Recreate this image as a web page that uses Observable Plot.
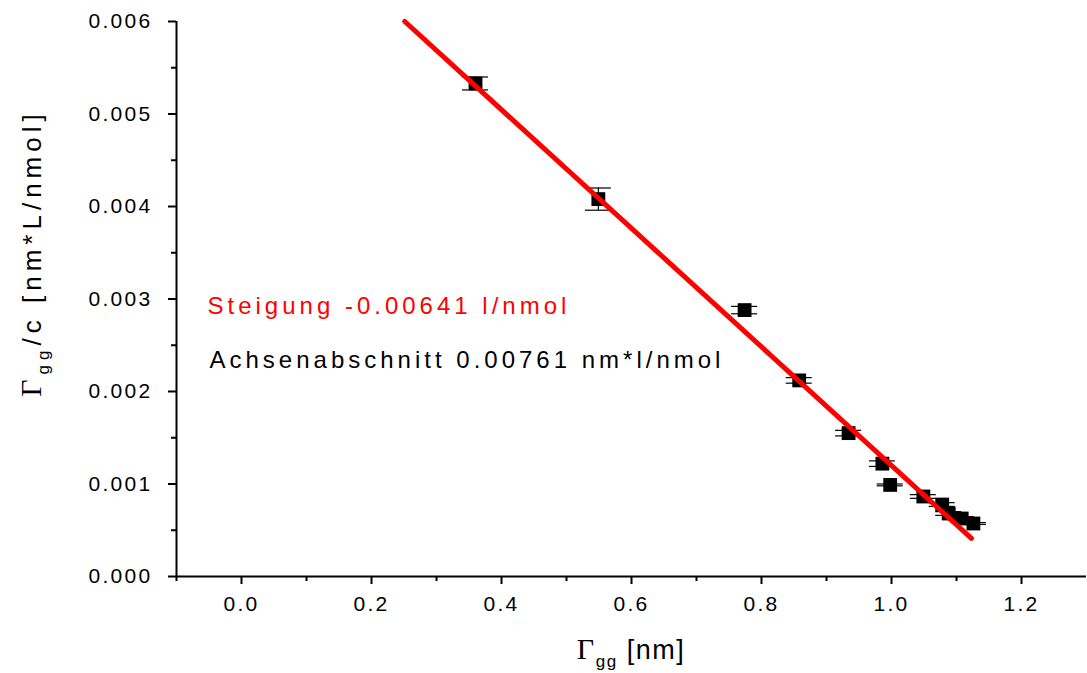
<!DOCTYPE html>
<html>
<head>
<meta charset="utf-8">
<script src="https://cdn.jsdelivr.net/npm/d3@7"></script>
<script src="https://cdn.jsdelivr.net/npm/@observablehq/plot@0.6"></script>
<style>
  html, body { margin: 0; padding: 0; background: #fff; }
  #chart svg { display: block; }
  #chart svg text { letter-spacing: 2.3px; }
</style>
</head>
<body>
<div id="chart"></div>
<script>
// Measured points: Γgg [nm] vs Γgg/c [nm*L/nmol]
const gammaX = [0.360, 0.549, 0.774, 0.858, 0.934, 0.986, 0.998, 1.049, 1.078, 1.088, 1.108, 1.126];
const gammaOverC = [0.00533, 0.00408, 0.00288, 0.00212, 0.00155, 0.00122, 0.00099, 0.000865, 0.000778, 0.000681, 0.000627, 0.000573];
const yErr = [0.00007, 0.00012, 0.00004, 0.00003, 0.00003, 0.00003, 0.00001, 0.00002, 0.00002, 0.00002, 0.00002, 0.00001];
const capHalf = 0.02;

// Linear fit
const slope = -0.00641;
const intercept = 0.00761;
const fitRange = [0.2512, 1.123];

const yTicks = [0, 0.001, 0.002, 0.003, 0.004, 0.005, 0.006];
const yMinorTicks = [0.0005, 0.0015, 0.0025, 0.0035, 0.0045, 0.0055];
const xTicks = [0.0, 0.2, 0.4, 0.6, 0.8, 1.0, 1.2];
const xMinorTicks = [-0.1, 0.1, 0.3, 0.5, 0.7, 0.9, 1.1];

const slopeLabel = "Steigung -0.00641 l/nmol";
const interceptLabel = "Achsenabschnitt 0.00761 nm*l/nmol";

const points = gammaX.map((x, i) => ({x, y: gammaOverC[i], e: yErr[i]}));
const fit = fitRange.map(x => ({x, y: intercept + slope * x}));

const chart = Plot.plot({
  width: 1087,
  height: 673,
  marginLeft: 176,
  marginRight: 1,
  marginTop: 21,
  marginBottom: 97,
  style: {fontFamily: "'Liberation Sans', Arial, sans-serif", fontSize: "21px", color: "#000", background: "#fff"},
  x: {domain: [-0.1, 1.3]},
  y: {domain: [0, 0.006]},
  marks: [
    Plot.axisY({ticks: yTicks, tickSize: 8, tickPadding: 16, tickFormat: d3.format(".3f"), label: null, strokeWidth: 2, fontSize: 21}),
    Plot.axisY({ticks: yMinorTicks, tickSize: 5, tickFormat: () => "", label: null, strokeWidth: 2}),
    Plot.axisX({ticks: xTicks, tickSize: 8, tickPadding: 12, tickFormat: d3.format(".1f"), label: null, strokeWidth: 2, fontSize: 21}),
    Plot.axisX({ticks: xMinorTicks, tickSize: 5, tickFormat: () => "", label: null, strokeWidth: 2}),
    Plot.ruleX([-0.1], {stroke: "#000", strokeWidth: 2}),
    Plot.ruleY([0], {stroke: "#000", strokeWidth: 2}),
    Plot.ruleX(points, {x: "x", y1: d => d.y - d.e, y2: d => d.y + d.e, stroke: "#000", strokeWidth: 1.2}),
    Plot.ruleY(points, {y: d => d.y - d.e, x1: d => d.x - capHalf, x2: d => d.x + capHalf, stroke: "#000", strokeWidth: 1.2}),
    Plot.ruleY(points, {y: d => d.y + d.e, x1: d => d.x - capHalf, x2: d => d.x + capHalf, stroke: "#000", strokeWidth: 1.2}),
    Plot.dot(points, {x: "x", y: "y", symbol: "square", r: 7.8, fill: "#000", stroke: "none"}),
    Plot.line(fit, {x: "x", y: "y", stroke: "#ff0000", strokeWidth: 5}),
    Plot.text([slopeLabel], {frameAnchor: "top-left", dx: 31, dy: 275, textAnchor: "start", fill: "#ff0000", fontSize: 24}),
    Plot.text([interceptLabel], {frameAnchor: "top-left", dx: 33, dy: 329, textAnchor: "start", fill: "#000", fontSize: 24})
  ]
});

const svg = d3.select(chart);
svg.selectAll("text").filter(function() { return this.textContent === slopeLabel || this.textContent === interceptLabel; })
  .style("letter-spacing", "4px");

// X axis title with subscript
const xt = svg.append("text")
  .attr("x", 631).attr("y", 659)
  .attr("text-anchor", "middle")
  .attr("font-size", 27)
  .attr("font-family", "'Liberation Sans', Arial, sans-serif")
  .attr("fill", "#000")
  .style("letter-spacing", "1.5px");
xt.append("tspan").attr("font-family", "'Liberation Serif', 'Times New Roman', serif").attr("font-size", 30).text("Γ");
xt.append("tspan").attr("font-size", 17).attr("dy", 8).text("gg");
xt.append("tspan").attr("dy", -8).text(" [nm]");

// Y axis title with subscript (rotated)
const yt = svg.append("text")
  .attr("transform", "translate(41,253) rotate(-90)")
  .attr("text-anchor", "middle")
  .attr("font-size", 26)
  .attr("font-family", "'Liberation Sans', Arial, sans-serif")
  .attr("fill", "#000")
  .style("letter-spacing", "5px");
yt.append("tspan").attr("font-family", "'Liberation Serif', 'Times New Roman', serif").attr("font-size", 30).text("Γ");
yt.append("tspan").attr("font-size", 17).attr("dy", 8).text("gg");
yt.append("tspan").attr("dy", -8).text("/c [nm*L/nmol]");

document.getElementById("chart").appendChild(chart);
</script>
</body>
</html>
